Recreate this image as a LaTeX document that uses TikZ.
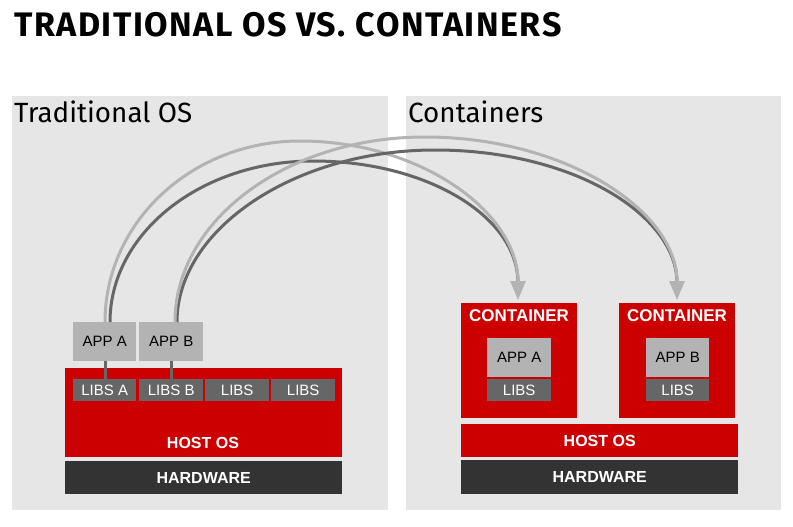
\documentclass[tikz,border=0pt]{standalone}
\usepackage{fontspec}
\setmainfont{Liberation Sans}
\newfontfamily\headfont{Fira Sans}
\newfontfamily\titlefont[LetterSpace=4.5]{Fira Sans}
\usetikzlibrary{arrows.meta}
\definecolor{rhred}{HTML}{CC0000}
\definecolor{panelgray}{HTML}{E6E6E6}
\definecolor{appgray}{HTML}{B3B3B3}
\definecolor{libgray}{HTML}{666666}
\definecolor{hwgray}{HTML}{333333}
\begin{document}
\begin{tikzpicture}[x=1pt,y=-1pt,
  panel/.style={fill=panelgray,draw=none,anchor=north west,inner sep=0},
  block/.style={draw=none,anchor=north west,inner sep=0},
  redblock/.style={block,fill=rhred},
  hwblock/.style={block,fill=hwgray},
  appbox/.style={block,fill=appgray,font=\fontsize{15}{15}\selectfont,text=black,align=center},
  libbox/.style={block,fill=libgray,font=\fontsize{15}{15}\selectfont,text=white,align=center},
  whitebold/.style={text=white,font=\bfseries\fontsize{16}{16}\selectfont,inner sep=0},
  headtext/.style={anchor=base west,inner sep=0,font=\headfont\fontsize{27.8}{28}\selectfont},
  lightarc/.style={draw=appgray,line width=3pt},
  darkarc/.style={draw=libgray,line width=3pt},
  tip/.style={-{Triangle[length=19pt,width=15pt,fill=appgray,color=appgray]}},
  stub/.style={draw=libgray,line width=3pt}
]
\useasboundingbox (0,0) rectangle (793,527);
\fill[white] (0,0) rectangle (793,527);

% title
\node[anchor=base west,inner sep=0,font=\titlefont\bfseries\fontsize{34}{34}\selectfont] (title) at (14,37) {TRADITIONAL OS VS. CONTAINERS};

% panels
\node[panel,minimum width=376pt,minimum height=414pt] (leftpanel) at (12,96) {};
\node[panel,minimum width=375pt,minimum height=414pt] (rightpanel) at (406,96) {};
\node[headtext] (lefthead) at (14,122) {Traditional OS};
\node[headtext] (righthead) at (408,122) {Containers};

% left stack
\node[redblock,minimum width=277pt,minimum height=89pt] (lhost) at (65,368) {};
\node[whitebold] (lhostlbl) at (203,443) {HOST OS};
\node[hwblock,minimum width=277pt,minimum height=33pt] (lhw) at (65,461) {};
\node[whitebold] at (lhw.center) {HARDWARE};

\node[appbox,minimum width=63pt,minimum height=39pt] (appa) at (73,322) {APP A};
\node[appbox,minimum width=64pt,minimum height=39pt] (appb) at (139,322) {APP B};
\node[libbox,minimum width=63pt,minimum height=22pt] (libsa) at (73,379) {LIBS A};
\node[libbox,minimum width=64pt,minimum height=22pt] (libsb) at (139,379) {LIBS B};
\node[libbox,minimum width=64pt,minimum height=22pt] (libsc) at (205,379) {LIBS};
\node[libbox,minimum width=64pt,minimum height=22pt] (libsd) at (271,379) {LIBS};

\draw[stub] (appa.south -| 105,0) -- (libsa.north -| 105,0);
\draw[stub] (appb.south -| 171,0) -- (libsb.north -| 171,0);

% right stack
\node[redblock,minimum width=116pt,minimum height=115pt] (cont1) at (461,303) {};
\node[redblock,minimum width=116pt,minimum height=115pt] (cont2) at (619,303) {};
\node[whitebold,font=\bfseries\fontsize{17}{17}\selectfont] (c1lbl) at (519,316) {CONTAINER};
\node[whitebold,font=\bfseries\fontsize{17}{17}\selectfont] (c2lbl) at (677,316) {CONTAINER};
\node[appbox,minimum width=64pt,minimum height=39pt] (rappa) at (487,338) {APP A};
\node[appbox,minimum width=63pt,minimum height=39pt] (rappb) at (646,338) {APP B};
\node[libbox,minimum width=64pt,minimum height=22pt] (rlibsa) at (487,379) {LIBS};
\node[libbox,minimum width=63pt,minimum height=22pt] (rlibsb) at (646,379) {LIBS};
\node[redblock,minimum width=277pt,minimum height=33pt] (rhost) at (461,424) {};
\node[whitebold] at (rhost.center) {HOST OS};
\node[hwblock,minimum width=277pt,minimum height=34pt] (rhw) at (461,460) {};
\node[whitebold] at (rhw.center) {HARDWARE};

% arcs
\coordinate (aend) at (518,300);
\coordinate (bend) at (677,300);
\draw[darkarc] (110,322) .. controls (110,233) and (201,161) .. (313,161)
  .. controls (426,161) and (518,216) .. (518,283);
\draw[lightarc,tip] (105,322) .. controls (105,222) and (192,141) .. (300,141)
  .. controls (420,141) and (518,212) .. (aend);
\draw[darkarc] (177,322) .. controls (177,229) and (295,150) .. (435,150)
  .. controls (573,150) and (677,215) .. (677,283);
\draw[lightarc,tip] (175,322) .. controls (175,220) and (287,137) .. (425,137)
  .. controls (564,137) and (677,210) .. (bend);
\end{tikzpicture}
\end{document}
